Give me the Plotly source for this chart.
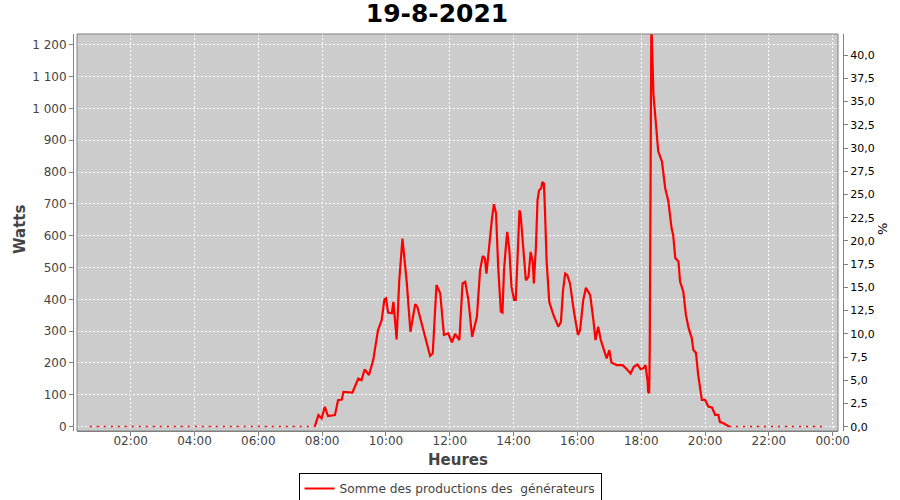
import plotly.graph_objects as go

DAY = "2021-08-19"
NEXT_DAY = "2021-08-20"

# Production (W)
times = ["07:46","07:53","07:59","08:05","08:11","08:24","08:30","08:37","08:40","08:57",
         "09:08","09:14","09:20","09:28","09:36","09:45","09:52","09:57","10:00","10:04",
         "10:11","10:14","10:20","10:25","10:31","10:39","10:46","10:55","10:59","11:09",
         "11:23","11:28","11:35","11:42","11:49","11:57","12:04","12:10","12:18","12:24",
         "12:29","12:35","12:42","12:51","12:57","13:02","13:06","13:09","13:14","13:19",
         "13:23","13:27","13:31","13:36","13:39","13:42","13:46","13:48","13:52","13:56",
         "14:01","14:04","14:07","14:11","14:13","14:18","14:23","14:28","14:32","14:36",
         "14:38","14:42","14:45","14:48","14:52","14:54","14:57","14:59","15:02","15:07",
         "15:15","15:24","15:29","15:33","15:37","15:41","15:46","15:54","16:01","16:05",
         "16:11","16:16","16:24","16:30","16:34","16:39","16:44","16:50","16:55","17:00",
         "17:04","17:14","17:25","17:33","17:40","17:46","17:53","17:59","18:04","18:08",
         "18:10","18:12","18:13","18:15","18:16","18:18","18:19","18:23","18:26","18:32",
         "18:39","18:45","18:51","18:57","19:00","19:04","19:10","19:13","19:19","19:24",
         "19:29","19:35","19:38","19:43","19:47","19:54","20:00","20:06","20:13","20:19",
         "20:25","20:28","20:34","20:41","20:45"]
watts = [0,36,26,62,33,36,83,85,109,107,
         151,146,180,162,209,303,335,400,403,358,
         356,392,274,460,591,455,298,385,376,314,
         222,230,445,419,288,293,265,291,272,450,
         455,398,282,345,492,536,529,481,576,649,
         699,670,502,361,358,492,576,612,555,439,
         398,398,513,680,670,565,460,471,549,518,
         450,565,712,743,749,769,764,680,523,392,
         350,314,329,429,481,476,450,356,288,303,
         398,436,413,335,272,314,272,240,214,240,
         201,193,193,180,167,188,195,180,183,193,
         167,141,109,105,240,1179,1275,1043,980,865,
         833,750,708,624,603,530,519,456,425,351,
         310,278,241,231,163,84,84,63,60,37,
         37,14,11,3,0]

# Night periods at zero
night_am_times = ["00:43", "07:46"]
night_am_watts = [0, 0]
night_pm_times = ["20:45", "23:46"]
night_pm_watts = [0, 0]

y_ticks = [0, 100, 200, 300, 400, 500, 600, 700, 800, 900, 1000, 1100, 1200]
pct_ticks = [0, 2.5, 5, 7.5, 10, 12.5, 15, 17.5, 20, 22.5, 25, 27.5, 30, 32.5, 35, 37.5, 40]

def ts(t):
    return f"{DAY} {t}:00"

FONT = "DejaVu Sans"
RED = "#FF0000"
AXIS = "#808080"
TICKC = "#444444"

fig = go.Figure()
fig.add_trace(go.Scatter(
    x=[ts(t) for t in night_am_times], y=night_am_watts, mode="lines",
    line=dict(color=RED, width=1.5, dash="2px,5px"), showlegend=False, hoverinfo="skip"))
fig.add_trace(go.Scatter(
    x=[ts(t) for t in night_pm_times], y=night_pm_watts, mode="lines",
    line=dict(color=RED, width=1.5, dash="2px,5px"), showlegend=False, hoverinfo="skip"))
fig.add_trace(go.Scatter(
    x=[ts(t) for t in times], y=watts, mode="lines",
    line=dict(color=RED, width=2.2),
    name="Somme des productions des \u00a0générateurs"))
fig.add_trace(go.Scatter(x=[ts(times[0])], y=[None], yaxis="y2", mode="lines",
                         showlegend=False, hoverinfo="skip"))

ml, mr, mt, mb = 73, 57, 34, 69
pw = 900 - ml - mr
ph = 500 - mt - mb
gx0, gx1 = 77, 838

fig.update_layout(
    width=900, height=500,
    margin=dict(l=ml, r=mr, t=mt, b=mb, autoexpand=False),
    paper_bgcolor="white", plot_bgcolor="#CCCCCC",
    separators=", ",
    font=dict(family=FONT, size=12, color=TICKC),
    title=dict(text="<b>19-8-2021</b>", x=437 / 900, xref="container", xanchor="center",
               y=1 - 13 / 500, yref="container", yanchor="middle",
               font=dict(family=FONT, size=25, color="black")),
    xaxis=dict(
        type="date",
        domain=[(gx0 - ml) / pw, (gx1 - ml) / pw],
        range=[f"{DAY} 00:19:00", f"{NEXT_DAY} 00:10:00"],
        tick0=f"{DAY} 00:00:00", dtick=7200000, tickformat="%H:%M",
        anchor="y", automargin=False,
        showline=True, linecolor=AXIS, linewidth=1,
        ticks="outside", ticklen=4, tickcolor=AXIS,
        ticklabelstandoff=-5,
        tickfont=dict(family=FONT, size=12, color=TICKC),
        showgrid=True, gridcolor="white", gridwidth=1, griddash="2px,2px",
        zeroline=False,
    ),
    yaxis=dict(
        domain=[0, 1],
        range=[-14, 1234],
        tickvals=y_ticks, tickformat=",d",
        anchor="free", position=0, automargin=False,
        showline=True, linecolor=AXIS, linewidth=1,
        ticks="outside", ticklen=4, tickcolor=AXIS,
        tickfont=dict(family=FONT, size=12, color=TICKC),
        showgrid=True, gridcolor="white", gridwidth=1, griddash="2px,2px",
        zeroline=False,
    ),
    yaxis2=dict(
        overlaying="y", side="right",
        range=[-0.46, 42.27],
        tickvals=pct_ticks, tickformat=".1f",
        anchor="free", position=1, automargin=False,
        showline=True, linecolor=AXIS, linewidth=1,
        ticks="outside", ticklen=4, tickcolor=AXIS,
        tickfont=dict(family=FONT, size=11, color="black"),
        showgrid=False, zeroline=False,
    ),
    legend=dict(
        orientation="h", x=0.5, xref="container", xanchor="center",
        y=1 - 473 / 500, yref="container", yanchor="top",
        bordercolor="black", borderwidth=1, bgcolor="white",
        itemwidth=30,
        font=dict(family=FONT, size=12.2, color=TICKC),
    ),
    annotations=[
        dict(text="<b>Watts</b>", xref="paper", yref="paper",
             x=(20 - ml) / pw, y=(mt + ph - 230) / ph, textangle=-90,
             showarrow=False, font=dict(family=FONT, size=15, color=TICKC),
             xanchor="center", yanchor="middle"),
        dict(text="<b>Heures</b>", xref="paper", yref="paper",
             x=(458 - ml) / pw, y=(mt + ph - 460) / ph,
             showarrow=False, font=dict(family=FONT, size=15, color=TICKC),
             xanchor="center", yanchor="middle"),
        dict(text="%", xref="paper", yref="paper",
             x=(883 - ml) / pw, y=(mt + ph - 229) / ph, textangle=-90,
             showarrow=False, font=dict(family=FONT, size=13, color="black"),
             xanchor="center", yanchor="middle"),
    ],
    shapes=[dict(type="rect", xref="x domain", yref="y domain",
                 x0=0, x1=1, y0=0, y1=1, line=dict(color=AXIS, width=1),
                 layer="above")],
)

fig.write_html("out.html", config={"displayModeBar": False},
               post_script="document.body.style.margin='0px';")
